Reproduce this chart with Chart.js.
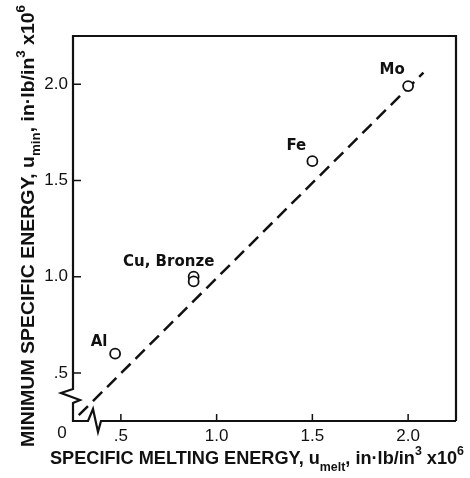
<!DOCTYPE html>
<html>
<head>
<meta charset="utf-8">
<script src="https://cdn.jsdelivr.net/npm/chart.js@4"></script>
<style>
  html, body { margin: 0; padding: 0; background: #fff; }
</style>
</head>
<body>
<canvas id="chart" width="470" height="478"></canvas>
<script>
// values, both axes in in-lb/in^3 x 10^6
const metals = ['Al', 'Cu, Bronze', '', 'Fe', 'Mo'];
const meltEnergy = [0.47, 0.88, 0.88, 1.50, 2.00];
const minEnergy = [0.60, 1.00, 0.975, 1.60, 1.99];
const fitX = [0.28, 2.08];
const fitY = [0.28, 2.06];
const tickValues = [0.5, 1.0, 1.5, 2.0];
const tickLabels = ['.5', '1.0', '1.5', '2.0'];
const axisMin = 0.25;
const axisMax = 2.25;

// where each metal name sits relative to its circle (px)
const labelOffsets = [[-16, -12], [-25, -15], [0, 0], [-16, -15], [-16, -16]];

const ink = '#111';
const tickFont = { family: '"Liberation Sans", Arial, sans-serif', size: 17 };

// draws a title made of pieces (sub/superscripts), squeezed to a given width
function drawRich(ctx, parts, x, y, width, angle) {
    ctx.save();
    let total = 0;
    parts.forEach(function (p) {
        ctx.font = 'bold ' + p.size + 'px "Liberation Sans", Arial, sans-serif';
        p.w = ctx.measureText(p.text).width;
        total += p.w;
    });
    ctx.translate(x, y);
    ctx.rotate(angle);
    ctx.scale(width / total, 1);
    ctx.fillStyle = ink;
    ctx.textAlign = 'left';
    ctx.textBaseline = 'alphabetic';
    let cx = 0;
    parts.forEach(function (p) {
        ctx.font = 'bold ' + p.size + 'px "Liberation Sans", Arial, sans-serif';
        ctx.fillText(p.text, cx, p.dy || 0);
        cx += p.w;
    });
    ctx.restore();
}

const xTitle = [
    { text: 'SPECIFIC MELTING ENERGY, u', size: 19 },
    { text: 'melt', size: 13, dy: 7 },
    { text: ', in\u00b7lb/in', size: 19 },
    { text: '3', size: 13, dy: -9 },
    { text: ' x10', size: 19 },
    { text: '6', size: 13, dy: -9 }
];
const yTitle = [
    { text: 'MINIMUM SPECIFIC ENERGY, u', size: 19 },
    { text: 'min', size: 13, dy: 6 },
    { text: ', in\u00b7lb/in', size: 19 },
    { text: '3', size: 13, dy: -9 },
    { text: ' x10', size: 19 },
    { text: '6', size: 13, dy: -9 }
];

// box with broken axes near the origin, inward ticks, titles
const framePlugin = {
    id: 'frame',
    afterDraw: function (chart) {
        const ctx = chart.ctx;
        const a = chart.chartArea;
        const L = a.left, R = a.right, T = a.top, B = a.bottom;
        const xs = chart.scales.x, ys = chart.scales.y;

        ctx.save();
        ctx.strokeStyle = ink;
        ctx.lineWidth = 2.2;
        ctx.lineJoin = 'miter';
        ctx.beginPath();
        ctx.moveTo(R, B);
        ctx.lineTo(L + 28, B);
        ctx.lineTo(L + 25, B + 11);
        ctx.lineTo(L + 20, B - 12);
        ctx.lineTo(L + 15, B);
        ctx.lineTo(L, B);
        ctx.lineTo(L, B - 18);
        ctx.lineTo(L + 7, B - 21);
        ctx.lineTo(L - 12, B - 28);
        ctx.lineTo(L, B - 32);
        ctx.lineTo(L, T);
        ctx.lineTo(R, T);
        ctx.lineTo(R, B);
        ctx.stroke();

        // inward tick marks
        ctx.lineWidth = 1.5;
        ctx.beginPath();
        tickValues.forEach(function (v) {
            const px = xs.getPixelForValue(v);
            ctx.moveTo(px, B);
            ctx.lineTo(px, B - 7);
            const py = ys.getPixelForValue(v);
            ctx.moveTo(L, py);
            ctx.lineTo(L + 8, py);
        });
        ctx.stroke();

        // origin label for the broken axes
        ctx.fillStyle = ink;
        ctx.font = tickFont.size + 'px ' + tickFont.family;
        ctx.textAlign = 'center';
        ctx.textBaseline = 'middle';
        ctx.fillText('0', L - 11, B + 12);

        drawRich(ctx, xTitle, 50, 464, 414, 0);
        drawRich(ctx, yTitle, 34, 447, 442, -Math.PI / 2);

        // metal names next to their circles
        const meta = chart.getDatasetMeta(0);
        ctx.font = 'bold 15px "DejaVu Sans", sans-serif';
        ctx.textAlign = 'center';
        ctx.textBaseline = 'middle';
        metals.forEach(function (name, i) {
            if (!name) return;
            const pt = meta.data[i];
            ctx.fillText(name, pt.x + labelOffsets[i][0], pt.y + labelOffsets[i][1]);
        });
        ctx.restore();
    }
};

function axisOptions(width, height) {
    return {
        type: 'linear',
        min: axisMin,
        max: axisMax,
        afterBuildTicks: function (scale) {
            scale.ticks = tickValues.map(function (v) { return { value: v }; });
        },
        afterFit: function (scale) {
            if (width) scale.width = width;
            if (height) scale.height = height;
        },
        grid: { display: false, drawTicks: false },
        border: { display: false },
        ticks: {
            autoSkip: false,
            maxRotation: 0,
            padding: 5,
            color: ink,
            font: tickFont,
            callback: function (v) {
                const i = tickValues.indexOf(v);
                return i >= 0 ? tickLabels[i] : '';
            }
        }
    };
}

const ctx = document.getElementById('chart').getContext('2d');
new Chart(ctx, {
    type: 'scatter',
    data: {
        datasets: [
            {
                label: 'metals',
                data: meltEnergy.map(function (x, i) { return { x: x, y: minEnergy[i] }; }),
                pointStyle: 'circle',
                pointRadius: 5,
                pointBorderWidth: 1.8,
                pointBorderColor: ink,
                pointBackgroundColor: '#fff'
            },
            {
                label: 'fit',
                data: fitX.map(function (x, i) { return { x: x, y: fitY[i] }; }),
                showLine: true,
                borderColor: ink,
                borderWidth: 2.5,
                borderDash: [13, 7],
                pointRadius: 0
            }
        ]
    },
    options: {
        responsive: false,
        animation: false,
        layout: { padding: { left: 0, top: 36, right: 14, bottom: 0 } },
        scales: {
            x: axisOptions(null, 57),
            y: axisOptions(73, null)
        },
        plugins: {
            legend: { display: false },
            tooltip: { enabled: false }
        }
    },
    plugins: [framePlugin]
});
</script>
</body>
</html>
